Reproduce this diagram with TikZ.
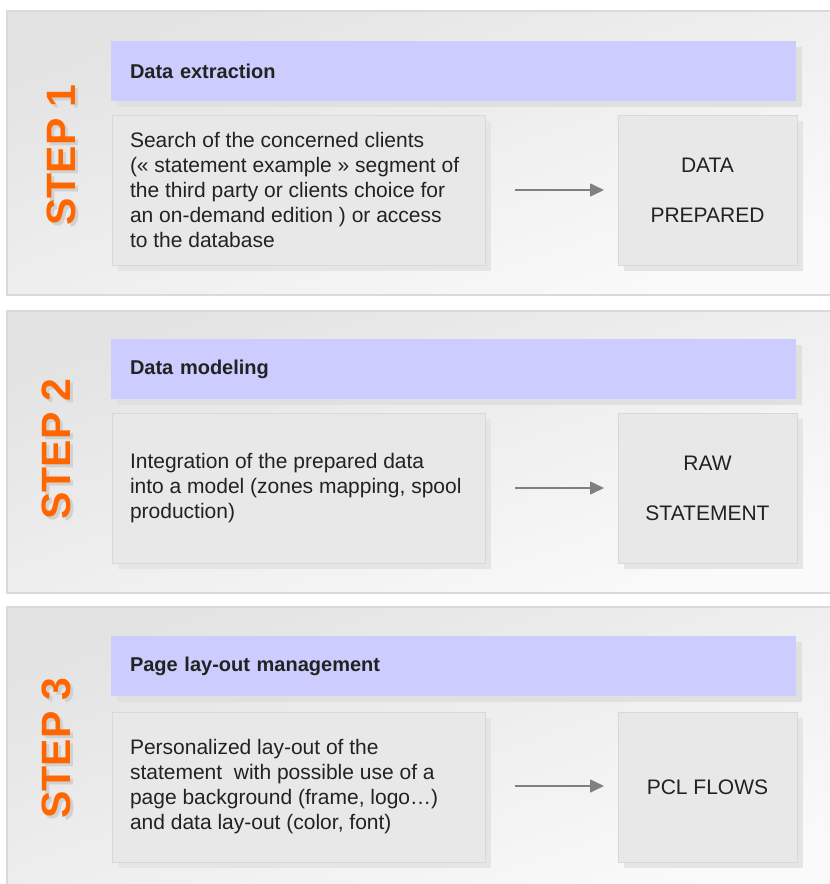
\documentclass[tikz,border=0pt]{standalone}
\usepackage{fontspec}
\setmainfont{Liberation Sans}
\usetikzlibrary{shadows,arrows.meta}
\definecolor{steporange}{HTML}{FF6600}
\definecolor{headblue}{HTML}{CCCCFF}
\definecolor{boxgray}{HTML}{E8E8E8}
\definecolor{boxline}{HTML}{D8D8D8}
\definecolor{panelline}{HTML}{DADADA}
\definecolor{txt}{HTML}{222222}
\begin{document}
\begin{tikzpicture}[x=1pt,y=-1pt,
  panel/.style={draw=panelline,line width=1.2pt,top color=black!11,bottom color=black!2,shading angle=20},
  header/.style={fill=headblue,minimum width=685pt,minimum height=60pt,inner xsep=19pt,text width=647pt,align=left,
    font=\fontsize{20}{24}\selectfont\bfseries,text=txt,
    drop shadow={shadow xshift=6pt,shadow yshift=-6pt,fill=black!12,opacity=1}},
  descbox/.style={fill=boxgray,draw=boxline,line width=1pt,minimum width=373pt,minimum height=150pt,inner xsep=18pt,
    text width=337pt,align=flush left,font=\fontsize{21}{25}\selectfont,text=txt,
    drop shadow={shadow xshift=6pt,shadow yshift=-6pt,fill=black!10,opacity=1}},
  resbox/.style={fill=boxgray,draw=boxline,line width=1pt,minimum width=179pt,minimum height=150pt,
    align=center,font=\fontsize{21}{50}\selectfont,text=txt,
    drop shadow={shadow xshift=6pt,shadow yshift=-6pt,fill=black!10,opacity=1}},
  steplabel/.style={rotate=90,font=\fontsize{41}{41}\selectfont\bfseries,text=steporange,inner sep=0pt},
  stepshade/.style={rotate=90,font=\fontsize{41}{41}\selectfont\bfseries,text=black!18,inner sep=0pt},
  flow/.style={draw=black!50,line width=1.6pt,-{Triangle[length=14pt,width=13pt]}}
]
\useasboundingbox (0,0) rectangle (830,884);
\fill[white] (0,0) rectangle (830,884);

% panels
\path[panel] (7,11) rectangle (845,295);
\path[panel] (7,311) rectangle (845,593);
\path[panel] (7,607) rectangle (845,900);

% step labels
\node[stepshade] (s1sh) at (64,158) {STEP 1};
\node[steplabel] (s1) at (61,155) {STEP 1};
\node[stepshade] (s2sh) at (59,452) {STEP 2};
\node[steplabel] (s2) at (56,449) {STEP 2};
\node[stepshade] (s3sh) at (59,751) {STEP 3};
\node[steplabel] (s3) at (56,748) {STEP 3};

% step 1
\node[header] (h1) at (453.5,71) {Data extraction};
\node[descbox] (d1) at (298.5,190) {Search of the concerned clients\\(« statement example » segment of\\the third party or clients choice for\\an on-demand edition ) or access\\to the database};
\node[resbox] (r1) at (707.5,190) {DATA\\PREPARED};
\draw[flow] (515,190) -- (604,190);

% step 2
\node[header] (h2) at (453.5,369) {Data modeling};
\node[descbox] (d2) at (298.5,488) {Integration of the prepared data\\into a model (zones mapping, spool\\production)};
\node[resbox] (r2) at (707.5,488) {RAW\\STATEMENT};
\draw[flow] (515,488) -- (604,488);

% step 3
\node[header] (h3) at (453.5,666) {Page lay-out management};
\node[descbox] (d3) at (298.5,787) {Personalized lay-out of the\\statement\ \ with possible use of a\\page background (frame, logo…)\\and data lay-out (color, font)};
\node[resbox] (r3) at (707.5,787) {PCL FLOWS};
\draw[flow] (515,786) -- (604,786);
\end{tikzpicture}
\end{document}
